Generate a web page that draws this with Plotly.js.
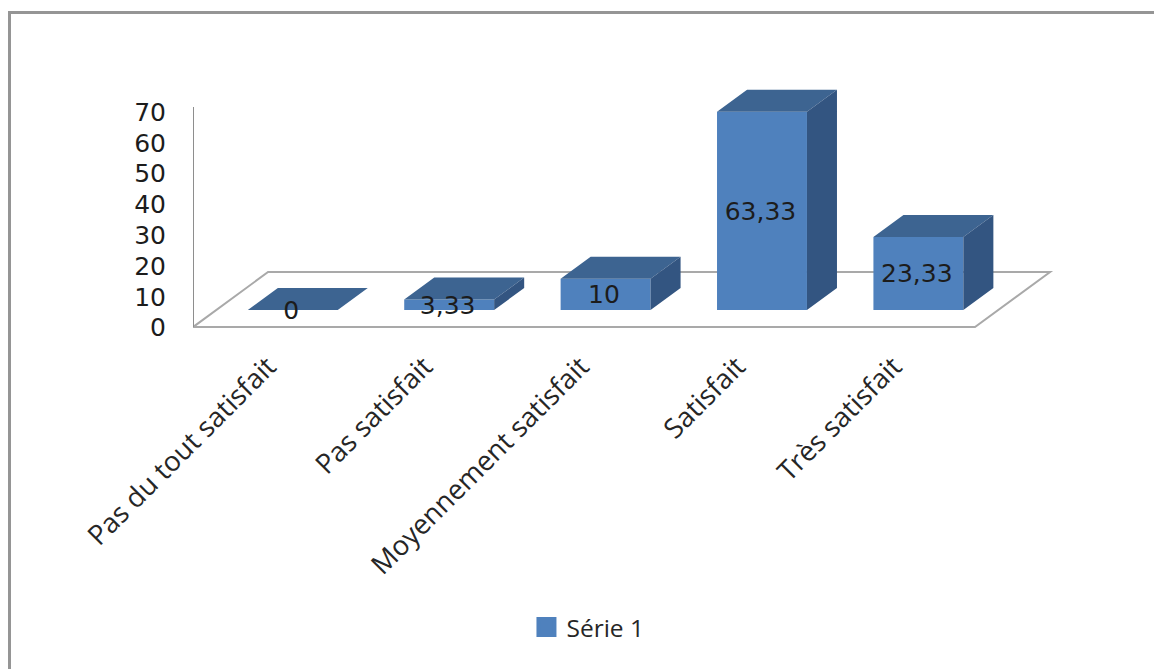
<!DOCTYPE html>
<html lang="fr">
<head>
<meta charset="utf-8">
<title>Satisfaction</title>
<script src="https://cdn.plot.ly/plotly-3.0.1.min.js"></script>
<style>
  html, body { margin: 0; padding: 0; background: #fff; overflow: hidden; }
  #frame { position: absolute; left: 8px; top: 11px; right: 0; bottom: 0;
           border-left: 3px solid #959595; border-top: 3px solid #959595; }
  #chart { position: absolute; left: 0; top: 0; width: 1154px; height: 669px; }
</style>
</head>
<body>
<div id="frame"></div>
<div id="chart"></div>
<script>
const categories = ['Pas du tout satisfait', 'Pas satisfait', 'Moyennement satisfait', 'Satisfait', 'Très satisfait'];
const values = [0, 3.33, 10, 63.33, 23.33];
const valueLabels = ['0', '3,33', '10', '63,33', '23,33'];
const axisTicks = [0, 10, 20, 30, 40, 50, 60, 70];
const seriesName = 'Série 1';

const FRONT = '#4f81bd', TOP = '#3d6491', SIDE = '#335581', FLOOR = '#a9a9a9', WALL = '#8e8e8e';

// Fake perspective: columns sit part-way along the floor, extruded up and to the right.
const barShift = 0.138, barWidth = 0.575;
const depthX = 0.192, depthY = 7.03;
const positions = categories.map((_, i) => i + barShift);

const tops = { x: [], y: [] }, sides = { x: [], y: [] };
values.forEach((v, i) => {
  const l = positions[i] - barWidth / 2, r = positions[i] + barWidth / 2;
  tops.x.push(l, r, r + depthX, l + depthX, l, null);
  tops.y.push(v, v, v + depthY, v + depthY, v, null);
  sides.x.push(r, r + depthX, r + depthX, r, r, null);
  sides.y.push(0, depthY, v + depthY, v, 0, null);
});

const face = (pts, color) => ({
  type: 'scatter', mode: 'lines', x: pts.x, y: pts.y, yaxis: 'y2',
  fill: 'toself', fillcolor: color, line: { width: 0 }, hoverinfo: 'skip', showlegend: false
});

const traces = [
  { type: 'bar', x: positions, y: values, yaxis: 'y2', width: barWidth,
    marker: { color: FRONT }, showlegend: false, hoverinfo: 'skip' },
  face(tops, TOP),
  face(sides, SIDE),
  // Value labels, nudged slightly below and left of each column's centre
  { type: 'scatter', mode: 'text', x: positions.map(p => p - 0.01), y: values.map(v => v / 2 - 0.8), yaxis: 'y2',
    text: valueLabels, textposition: 'middle center',
    textfont: { family: 'DejaVu Sans', size: 25, color: '#1c1c1c' },
    hoverinfo: 'skip', showlegend: false },
  // Legend key: the scatter square reaches the larger swatch size
  { type: 'scatter', mode: 'markers', x: [null], y: [null], name: seriesName,
    marker: { symbol: 'square', size: 16, color: FRONT, line: { width: 4, color: FRONT } } }
];

const layout = {
  width: 1154, height: 669,
  paper_bgcolor: 'rgba(0,0,0,0)', plot_bgcolor: 'rgba(0,0,0,0)',
  margin: { l: 193, r: 94, t: 80, b: 329 },
  xaxis: {
    range: [-0.5, 5.0435], showgrid: false, zeroline: false, showline: false, fixedrange: true,
    tickmode: 'array', tickvals: categories.map((_, i) => i - 0.02), ticktext: categories,
    tickangle: -45, ticks: '', ticklabelstandoff: 4,
    tickfont: { family: 'Open Sans', size: 27.5, color: '#262626' }
  },
  yaxis: {
    range: [-3.99, 80.42], showgrid: false, zeroline: false, showline: false, fixedrange: true,
    tickmode: 'array', tickvals: axisTicks, ticks: '', ticklabelstandoff: 26,
    tickfont: { family: 'DejaVu Sans', size: 25, color: '#1c1c1c' }
  },
  yaxis2: {
    range: [-9.58, 73.48], overlaying: 'y', side: 'left', visible: false, fixedrange: true
  },
  shapes: [
    // Chart floor and back-left wall edge, drawn beneath the columns
    { type: 'path', layer: 'below', xref: 'x', yref: 'y',
      path: 'M-0.5,0.2 L4.5,0.2 L4.98,18.08 L-0.02,18.08 Z',
      line: { color: FLOOR, width: 2 }, fillcolor: '#ffffff' },
    { type: 'line', layer: 'below', xref: 'x', yref: 'y',
      x0: -0.5, x1: -0.5, y0: 0.2, y1: 71.66, line: { color: WALL, width: 2 } }
  ],
  showlegend: true,
  legend: {
    orientation: 'h', x: 0.5095, xref: 'container', xanchor: 'center',
    y: 0.0625, yref: 'container', yanchor: 'middle',
    bgcolor: 'rgba(0,0,0,0)', font: { family: 'Open Sans', size: 24.5, color: '#262626' }
  }
};

Plotly.newPlot('chart', traces, layout, { displayModeBar: false, responsive: false });
</script>
</body>
</html>
